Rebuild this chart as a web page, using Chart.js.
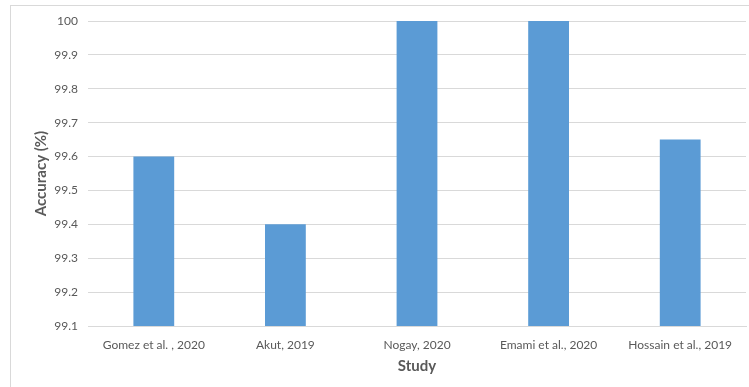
<!DOCTYPE html>
<html>
<head>
<meta charset="utf-8">
<script src="https://cdn.jsdelivr.net/npm/chart.js@4/dist/chart.umd.min.js"></script>
<style>
  html, body { margin: 0; padding: 0; background: #fff; }
  #wrap { position: relative; width: 749px; height: 387px; overflow: hidden; }
  #frame { position: absolute; left: 10px; top: 5px; width: 760px; height: 400px; border: 1px solid #d9d9d9; box-sizing: border-box; }
  canvas { position: absolute; left: 0; top: 0; }
</style>
</head>
<body>
<div id="wrap">
  <div id="frame"></div>
  <canvas id="c" width="749" height="387"></canvas>
</div>
<script>
const studies = ['Gomez et al. , 2020', 'Akut, 2019', 'Nogay, 2020', 'Emami et al., 2020', 'Hossain et al., 2019'];
const accuracy = [99.6, 99.4, 100, 100, 99.65];
const yMin = 99.1;
const yMax = 100;
const yStep = 0.1;

const FONT = 'Lato, "Open Sans", sans-serif';
const GREY = '#595959';

new Chart(document.getElementById('c'), {
  type: 'bar',
  data: {
    labels: studies,
    datasets: [{
      label: 'Accuracy (%)',
      data: accuracy,
      backgroundColor: '#5b9bd5',
      borderWidth: 0,
      categoryPercentage: 1,
      barPercentage: 0.31
    }]
  },
  options: {
    responsive: false,
    animation: false,
    layout: { padding: { left: 10, right: 3, top: 21, bottom: 0 } },
    plugins: { legend: { display: false }, tooltip: { enabled: false } },
    scales: {
      x: {
        grid: { display: false, drawTicks: false },
        border: { display: true, color: '#d9d9d9', width: 1 },
        ticks: { color: GREY, font: { family: FONT, size: 12 }, padding: 12, maxRotation: 0, autoSkip: false },
        title: { display: true, text: 'Study', color: GREY, font: { family: FONT, size: 15, weight: 'bold' }, padding: { top: 0, bottom: 12 } },
        afterFit: s => { s.height = 61; }
      },
      y: {
        min: yMin,
        max: yMax,
        grid: { color: '#d9d9d9', drawTicks: false },
        border: { display: false },
        ticks: {
          stepSize: yStep,
          color: GREY,
          padding: 10,
          font: { family: FONT, size: 12 },
          callback: v => String(Number(v.toFixed(1)))
        },
        title: { display: true, text: 'Accuracy (%)', color: GREY, font: { family: FONT, size: 15, weight: 'bold' }, padding: { top: 22, bottom: 0 } },
        afterFit: s => { s.width = 78; }
      }
    }
  }
});
</script>
</body>
</html>
